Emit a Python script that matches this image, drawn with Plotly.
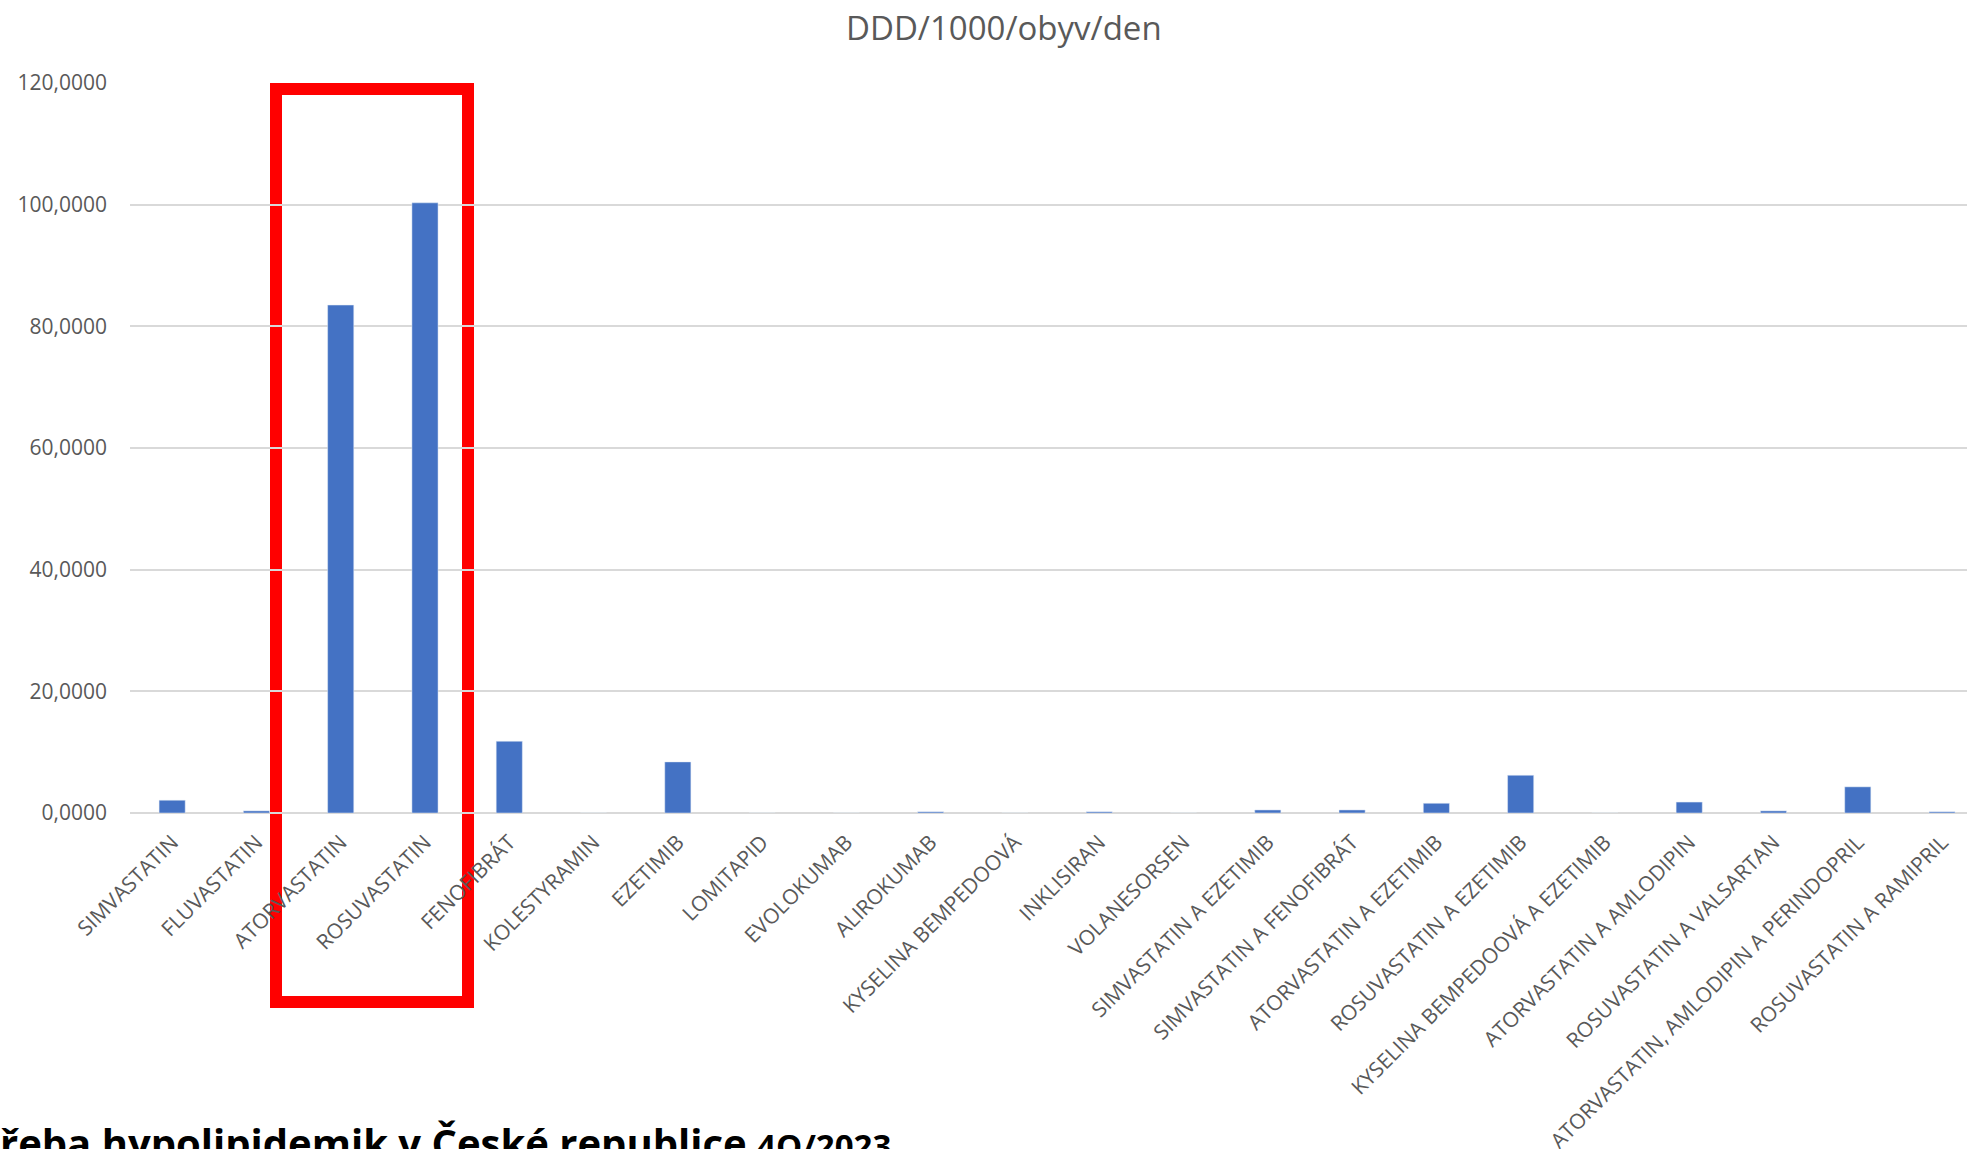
import plotly.graph_objects as go

# Lipid-lowering drug consumption, DDD per 1000 inhabitants per day
categories = [
    "SIMVASTATIN", "FLUVASTATIN", "ATORVASTATIN", "ROSUVASTATIN", "FENOFIBRÁT",
    "KOLESTYRAMIN", "EZETIMIB", "LOMITAPID", "EVOLOKUMAB", "ALIROKUMAB",
    "KYSELINA BEMPEDOOVÁ", "INKLISIRAN", "VOLANESORSEN",
    "SIMVASTATIN A EZETIMIB", "SIMVASTATIN A FENOFIBRÁT",
    "ATORVASTATIN A EZETIMIB", "ROSUVASTATIN A EZETIMIB",
    "KYSELINA BEMPEDOOVÁ A EZETIMIB", "ATORVASTATIN A AMLODIPIN",
    "ROSUVASTATIN A VALSARTAN", "ATORVASTATIN, AMLODIPIN A PERINDOPRIL",
    "ROSUVASTATIN A RAMIPRIL",
]
ddd_values = [
    2.1, 0.35, 83.5, 100.3, 11.8,
    0.0, 8.4, 0.0, 0.0, 0.2,
    0.0, 0.2, 0.0,
    0.5, 0.5,
    1.6, 6.2,
    0.0, 1.8,
    0.35, 4.3,
    0.2,
]
y_tick_values = [0, 20, 40, 60, 80, 100, 120]
y_tick_labels = ["0,0000", "20,0000", "40,0000", "60,0000", "80,0000", "100,0000", "120,0000"]

W, H = 1967, 1149
ML, MT, MB = 130, 83, 336
PW, PH = W - ML, H - MT - MB


def px_x(px):
    return (px - ML) / PW


def px_y(py):
    return (H - MB - py) / PH


fig = go.Figure(
    go.Bar(
        x=list(range(len(categories))),
        y=ddd_values,
        marker=dict(color="#4472C4"),
        width=0.31,
        hoverinfo="x+y",
    )
)

grey = "#595959"
fig.update_layout(
    width=W,
    height=H,
    margin=dict(l=ML, r=0, t=MT, b=MB, autoexpand=False),
    paper_bgcolor="white",
    plot_bgcolor="white",
    showlegend=False,
    font=dict(family="Open Sans", color=grey),
    xaxis=dict(
        range=[-0.5, 21.296],
        tickmode="array",
        tickvals=list(range(len(categories))),
        ticktext=categories,
        tickangle=-45,
        tickfont=dict(size=21, color=grey),
        showgrid=False,
        showline=False,
        zeroline=False,
        ticks="",
        ticklabelstandoff=12,
        automargin=False,
    ),
    yaxis=dict(
        range=[0, 120],
        tickmode="array",
        tickvals=y_tick_values,
        ticktext=y_tick_labels,
        tickfont=dict(size=21, color=grey),
        showgrid=True,
        gridcolor="#D9D9D9",
        gridwidth=1.5,
        zeroline=True,
        zerolinecolor="#D9D9D9",
        zerolinewidth=2,
        showline=False,
        ticks="",
        ticklabelstandoff=22,
        automargin=False,
    ),
    annotations=[
        dict(
            text="DDD/1000/obyv/den",
            xref="paper", yref="paper",
            x=px_x(1004), y=px_y(27),
            xanchor="center", yanchor="middle",
            showarrow=False,
            font=dict(size=33, color=grey, family="Open Sans"),
        ),
        dict(
            text="<b>řeba hypolipidemik v České republice "
                 "<span style='font-size:33px'>4Q/2023</span></b>",
            xref="paper", yref="paper",
            x=px_x(-2), y=px_y(1142),
            xanchor="left", yanchor="middle",
            showarrow=False,
            font=dict(size=40, color="black", family="Open Sans"),
        ),
    ],
    shapes=[
        dict(
            type="rect",
            xref="paper", yref="paper",
            x0=px_x(276), x1=px_x(468),
            y0=px_y(1002), y1=px_y(89),
            line=dict(color="#FF0000", width=12),
            fillcolor="rgba(0,0,0,0)",
            layer="below",
        )
    ],
)

fig.write_html("out.html")
